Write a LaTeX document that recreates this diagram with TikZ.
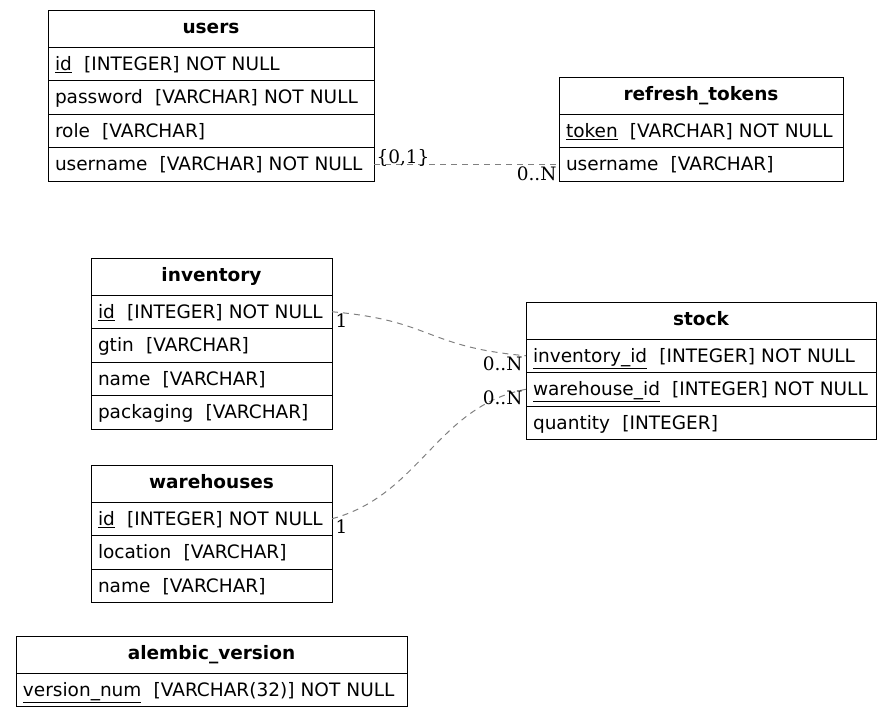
\documentclass[tikz,border=0pt]{standalone}
\usepackage{fontspec}
\setmainfont{DejaVu Sans}
\newfontfamily\lblfont{DejaVu Serif}
\usepackage{tikz}
\usetikzlibrary{positioning}
\definecolor{edgegray}{gray}{0.5}
\newcommand\tblsize{\fontsize{18.5pt}{22pt}\selectfont}
\newcommand\colgap{\hspace{0.66em}}
\tikzset{
  tblhead/.style={draw=black, line width=1pt, font=\tblsize\bfseries, text width=#1,
                  align=center, minimum height=37pt, text height=14pt,
                  text depth=4pt, inner xsep=7pt, inner ysep=0pt, outer sep=0pt},
  tblrow/.style={draw=black, line width=1pt, font=\tblsize, text width=#1, align=left,
                 minimum height=33.5pt, text height=17.5pt, text depth=4.5pt,
                 inner xsep=7pt, inner ysep=0pt, outer sep=0pt},
  relline/.style={draw=edgegray, line width=1pt, dash pattern=on 6pt off 5pt},
  card/.style={font=\tblsize\lblfont, inner sep=1pt, text=black},
}

\begin{document}
\begin{tikzpicture}[x=1pt, y=-1pt, node distance=0pt]
  \useasboundingbox (0,0) rectangle (892,718);

  \node[tblhead=312pt, anchor=north west] (users) at (48,10) {users};
  \node[tblrow=312pt, below=of users] (uid)   {\underline{id}\colgap[INTEGER] NOT NULL};
  \node[tblrow=312pt, below=of uid]   (upass) {password\colgap[VARCHAR] NOT NULL};
  \node[tblrow=312pt, below=of upass] (urole) {role\colgap[VARCHAR]};
  \node[tblrow=312pt, below=of urole] (uname) {username\colgap[VARCHAR] NOT NULL};

  \node[tblhead=270pt, anchor=north west] (rtok) at (559,77) {refresh\_tokens};
  \node[tblrow=270pt, below=of rtok]   (rtoken) {\underline{token}\colgap[VARCHAR] NOT NULL};
  \node[tblrow=270pt, below=of rtoken] (runame) {username\colgap[VARCHAR]};

  \node[tblhead=227pt, anchor=north west] (inv) at (91,258) {inventory};
  \node[tblrow=227pt, below=of inv]   (iid)   {\underline{id}\colgap[INTEGER] NOT NULL};
  \node[tblrow=227pt, below=of iid]   (igtin) {gtin\colgap[VARCHAR]};
  \node[tblrow=227pt, below=of igtin] (iname) {name\colgap[VARCHAR]};
  \node[tblrow=227pt, below=of iname] (ipack) {packaging\colgap[VARCHAR]};

  \node[tblhead=336pt, anchor=north west] (stock) at (526,302) {stock};
  \node[tblrow=336pt, below=of stock] (sinv) {\underline{inventory\_id}\colgap[INTEGER] NOT NULL};
  \node[tblrow=336pt, below=of sinv]  (swh)  {\underline{warehouse\_id}\colgap[INTEGER] NOT NULL};
  \node[tblrow=336pt, below=of swh]   (sqty) {quantity\colgap[INTEGER]};

  \node[tblhead=227pt, anchor=north west] (wh) at (91,465) {warehouses};
  \node[tblrow=227pt, below=of wh]   (wid)   {\underline{id}\colgap[INTEGER] NOT NULL};
  \node[tblrow=227pt, below=of wid]  (wloc)  {location\colgap[VARCHAR]};
  \node[tblrow=227pt, below=of wloc] (wname) {name\colgap[VARCHAR]};

  \node[tblhead=377pt, anchor=north west] (alem) at (16,636) {alembic\_version};
  \node[tblrow=377pt, below=of alem] (aver) {\underline{version\_num}\colgap[VARCHAR(32)] NOT NULL};

  \draw[relline] (uname.east) -- (runame.west)
    node[card, pos=0, anchor=west, xshift=1pt, yshift=6pt] {\{0,1\}}
    node[card, pos=1, anchor=east, xshift=-1pt, yshift=-10pt] {0..N};
  \draw[relline] (iid.east) to[out=-5, in=175, looseness=1.3]
    node[card, pos=0, anchor=west, xshift=2pt, yshift=-8.5pt] {1}
    node[card, pos=1, anchor=east, xshift=-2pt, yshift=-8.5pt] {0..N} (sinv.west);
  \draw[relline] (wid.east) to[out=15, in=191]
    node[card, pos=0, anchor=west, xshift=2pt, yshift=-8pt] {1}
    node[card, pos=1, anchor=east, xshift=-2pt, yshift=-8.5pt] {0..N} (swh.west);

\end{tikzpicture}
\end{document}
